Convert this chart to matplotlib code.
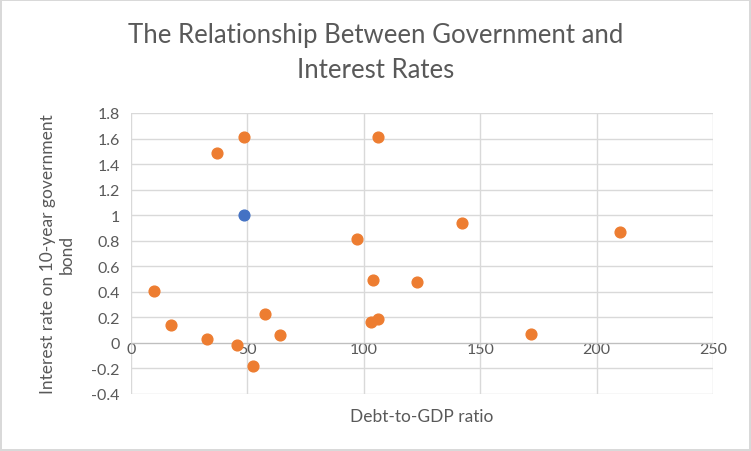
import matplotlib
matplotlib.use("Agg")
import matplotlib.pyplot as plt

debt = [37, 48.5, 106, 97, 142, 210, 104, 123, 10, 17, 57.5, 64, 103, 106, 32.5, 45.5, 52.5, 172]
rate = [1.49, 1.61, 1.61, 0.81, 0.94, 0.87, 0.49, 0.48, 0.41, 0.14, 0.23, 0.06, 0.16, 0.19, 0.03, -0.02, -0.18, 0.07]
hl_debt = [48.5]
hl_rate = [1.0]
xticks = [0, 50, 100, 150, 200, 250]
yticks = [-0.4, -0.2, 0, 0.2, 0.4, 0.6, 0.8, 1, 1.2, 1.4, 1.6, 1.8]

plt.rcParams['font.family'] = ['Lato', 'DejaVu Sans']
fig = plt.figure(figsize=(7.51, 4.52), dpi=100)
fig.patch.set_edgecolor('#d9d9d9'); fig.patch.set_linewidth(1.5)
ax = fig.add_axes([131/751, 1-395/452, (713-131)/751, (395-114)/452])
ax.set_xlim(0, 250); ax.set_ylim(-0.4, 1.8)
ax.set_xticks(xticks); ax.set_yticks(yticks)
ax.set_yticklabels([f"{v:g}" for v in yticks])
ax.grid(True, color='#d9d9d9', lw=1)
ax.set_axisbelow(True)
for s in ['top', 'right', 'left']:
    ax.spines[s].set_visible(False)
ax.spines['bottom'].set_position(('data', 0))
ax.spines['bottom'].set_color('#bfbfbf')
ax.tick_params(length=0, labelsize=11.5, colors='#595959')
ax.tick_params(axis='x', pad=-1)
ax.tick_params(axis='y', pad=8)
ax.scatter(debt, rate, s=60, color='#ed7d31', zorder=3)
ax.scatter(hl_debt, hl_rate, s=60, color='#4472c4', zorder=3)
ax.set_xlabel('Debt-to-GDP ratio', fontsize=12.5, color='#595959', labelpad=38)
ax.set_ylabel('Interest rate on 10-year government\nbond', fontsize=12.5, color='#595959', labelpad=12)
fig.text(0.5, 1-53/452, 'The Relationship Between Government and\nInterest Rates', ha='center', va='center', fontsize=18.5, color='#595959', linespacing=1.55)
fig.savefig('out.png', dpi=100, edgecolor=fig.get_edgecolor())
